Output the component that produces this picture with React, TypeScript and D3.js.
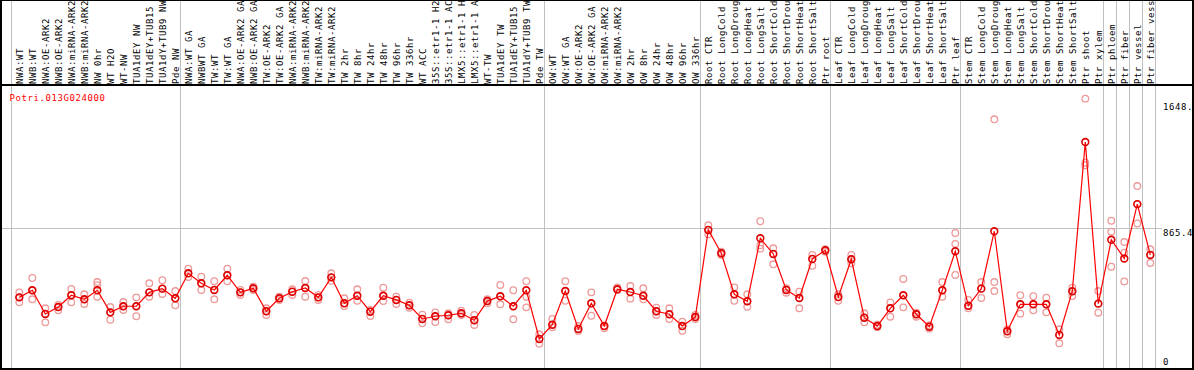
import React from "react";
import * as d3 from "d3";

const W = 1194;
const H = 370;

const title = "Potri.013G024000";

const labels = [
  "NWA:WT", "NWB:WT", "NWA:OE-ARK2", "NWB:OE-ARK2", "NWA:miRNA-ARK2", "NWB:miRNA-ARK2",
  "NW 0hr", "WT H2O", "WT-NW", "TUA1dEY NW", "TUA1dEY+TUB15 NW", "TUA1dY+TUB9 NW", "Pde NW",
  "NWA:WT GA", "NWBWT GA", "TW:WT", "TW:WT GA", "NWA:OE-ARK2 GA", "NWB:OE-ARK2 GA",
  "TW:OE-ARK2", "TW:OE-ARK2 GA", "NWA:miRNA-ARK2 GA", "NWB:miRNA-ARK2 GA", "TW:miRNA-ARK2",
  "TW:miRNA-ARK2 GA", "TW 2hr", "TW 8hr", "TW 24hr", "TW 48hr", "TW 96hr", "TW 336hr",
  "WT ACC", "35S::etr1-1 H2O", "35S::etr1-1 ACC", "LMX5::etr1-1 H2O", "LMX5::etr1-1 ACC",
  "WT-TW", "TUA1dEY TW", "TUA1dEY+TUB15 TW", "TUA1dY+TUB9 TW", "Pde TW",
  "OW:WT", "OW:WT GA", "OW:OE-ARK2", "OW:OE-ARK2 GA", "OW:miRNA-ARK2", "OW:miRNA-ARK2 GA",
  "OW 2hr", "OW 8hr", "OW 24hr", "OW 48hr", "OW 96hr", "OW 336hr",
  "Root CTR", "Root LongCold", "Root LongDrought", "Root LongHeat", "Root LongSalt",
  "Root ShortCold", "Root ShortDrought", "Root ShortHeat", "Root ShortSalt", "Ptr root",
  "Leaf CTR", "Leaf LongCold", "Leaf LongDrought", "Leaf LongHeat", "Leaf LongSalt",
  "Leaf ShortCold", "Leaf ShortDrought", "Leaf ShortHeat", "Leaf ShortSalt", "Ptr leaf",
  "Stem CTR", "Stem LongCold", "Stem LongDrought", "Stem LongHeat", "Stem LongSalt",
  "Stem ShortCold", "Stem ShortDrought", "Stem ShortHeat", "Stem ShortSalt",
  "Ptr shoot", "Ptr xylem", "Ptr phloem", "Ptr fiber", "Ptr vessel", "Ptr fiber vessel",
];

const means = [
  438, 482, 335, 378, 451, 426, 482, 345, 383, 383, 469, 492, 432,
  587, 525, 484, 575, 469, 494, 352, 432, 473, 496, 438, 562, 401, 448, 349, 448, 422, 389, 304, 321, 327, 339, 296, 415, 445, 383, 482, 180,
  268, 477, 242, 401, 260, 488, 471, 448, 352, 333, 260, 316,
  856, 711, 457, 414, 804, 707, 484, 434, 676, 730,
  440, 674, 312, 260, 370, 451, 333, 256, 482, 724,
  386, 492, 848, 228, 395, 395, 395, 205, 476, 1401, 399,
  795, 679, 1016, 701,
];

const rep1 = [
  469, 558, 370, 391, 490, 457, 533, 378, 409, 438, 525, 544, 477,
  616, 566, 538, 616, 484, 504, 370, 442, 488, 539, 453, 587, 432, 488, 360, 498, 442, 405, 330, 345, 339, 355, 329, 426, 515, 482, 538, 209,
  304, 538, 260, 469, 260, 500, 508, 494, 374, 370, 287, 329,
  885, 721, 500, 457, 910, 742, 494, 473, 701, 736,
  457, 701, 339, 268, 407, 552, 343, 265, 533, 837,
  422, 533, 1542, 240, 451, 445, 436, 240, 498, 1670, 477,
  913, 781, 1128, 736,
];

const rep2 = [
  407, 426, 283, 358, 407, 397, 442, 299, 360, 321, 442, 459, 389,
  564, 484, 426, 538, 453, 484, 329, 422, 453, 442, 422, 541, 384, 417, 322, 415, 397, 374, 277, 285, 302, 329, 267, 401, 395, 302, 376, 151,
  252, 417, 229, 324, 246, 484, 430, 426, 329, 304, 231, 304,
  829, 701, 417, 380, 740, 643, 467, 370, 634, 721,
  417, 649, 283, 252, 318, 376, 318, 244, 442, 577,
  370, 434, 477, 209, 337, 358, 345, 153, 446, 1257, 343,
  628, 537, 896, 651,
];

const rep3 = [
  438, 482, 335, 378, 451, 426, 513, 345, 383, 383, 469, 492, 432,
  587, 525, 484, 575, 469, 494, 352, 432, 473, 496, 438, 562, 401, 448, 349, 448, 422, 389, 304, 321, 327, 339, 296, 415, 445, 383, 442, 180,
  268, 477, 242, 401, 260, 488, 471, 448, 352, 333, 260, 316,
  856, 711, 457, 414, 761, 707, 484, 434, 676, 730,
  440, 674, 312, 260, 370, 451, 333, 256, 482, 769,
  386, 492, 533, 228, 395, 395, 395, 205, 476, 1273, 399,
  845, 715, 1016, 701,
];

// number of columns after which a separator line is drawn
const groupEnds = [0, 13, 41, 53, 63, 73, 84, 85, 86, 87, 88];
const yTicks = [0, 865.4, 1648.6];
const gridValues = [865.4];
const yMax = 1648.6;

const FONT = "'DejaVu Sans Mono', 'Liberation Mono', monospace";

export default function App() {
  const n = labels.length;
  const x = d3.scaleLinear().domain([0, n - 1]).range([19.3, 1150.3]);
  const y = d3.scaleLinear().domain([0, yMax]).range([368, 102.1]);
  const line = d3
    .line<number>()
    .x((_, i) => x(i))
    .y((d) => y(d));

  const reps: { i: number; v: number }[] = [];
  [rep1, rep2, rep3].forEach((arr) =>
    arr.forEach((v, i) => {
      if (v != null) reps.push({ i, v });
    })
  );

  const sepX = (k: number) => Math.floor(x(k - 1) + 5) + 0.5;

  return (
    <>
      <style>{`body{margin:0;background:#fff}`}</style>
      <svg width={W} height={H} style={{ display: "block" }} fontFamily={FONT}>
        <rect x={0} y={0} width={W} height={H} fill="#fff" />
        {/* separators */}
        {groupEnds.map((k) => (
          <line key={"s" + k} x1={sepX(k)} x2={sepX(k)} y1={0} y2={369} stroke="#c0c0c0" strokeWidth={1} />
        ))}
        {gridValues.map((g) => (
          <line key={"g" + g} x1={1} x2={1162} y1={Math.round(y(g)) + 0.5} y2={Math.round(y(g)) + 0.5} stroke="#c0c0c0" strokeWidth={1} />
        ))}
        {/* header labels */}
        {labels.map((l, i) => (
          <text
            key={"l" + i}
            transform={`translate(${x(i) + 3.2},84) rotate(-90)`}
            fontSize={9}
            letterSpacing={0.58}
            fill="#000"
          >
            {l}
          </text>
        ))}
        {/* frame */}
        <line x1={0} x2={W} y1={85} y2={85} stroke="#000" strokeWidth={2} />
        <line x1={0} x2={W} y1={0} y2={0} stroke="#000" strokeWidth={2} />
        <line x1={0} x2={W} y1={369} y2={369} stroke="#000" strokeWidth={2} />
        <line x1={1} x2={1} y1={0} y2={H} stroke="#000" strokeWidth={2} />
        <line x1={1193} x2={1193} y1={0} y2={H} stroke="#000" strokeWidth={2} />
        {/* title */}
        <text x={9.5} y={100.5} fontSize={9} letterSpacing={0.58} fill="#ff0000">
          {title}
        </text>
        {/* y tick labels */}
        {yTicks.map((t) => (
          <text
            key={"t" + t}
            x={1163}
            y={Math.min(y(t) + 4.5, 362)}
            dominantBaseline="central"
            fontSize={9}
            letterSpacing={0.58}
            fill="#000"
          >
            {String(t)}
          </text>
        ))}
        {/* replicates */}
        {reps.map((r, k) => (
          <circle key={"r" + k} cx={x(r.i)} cy={y(r.v)} r={3.3} fill="none" stroke="#ee9999" strokeWidth={1.3} />
        ))}
        {/* mean line */}
        <path d={line(means) || ""} fill="none" stroke="#ff0000" strokeWidth={1.2} />
        {means.map((m, i) => (
          <circle key={"m" + i} cx={x(i)} cy={y(m)} r={3.4} fill="none" stroke="#dd0000" strokeWidth={1.6} />
        ))}
      </svg>
    </>
  );
}
